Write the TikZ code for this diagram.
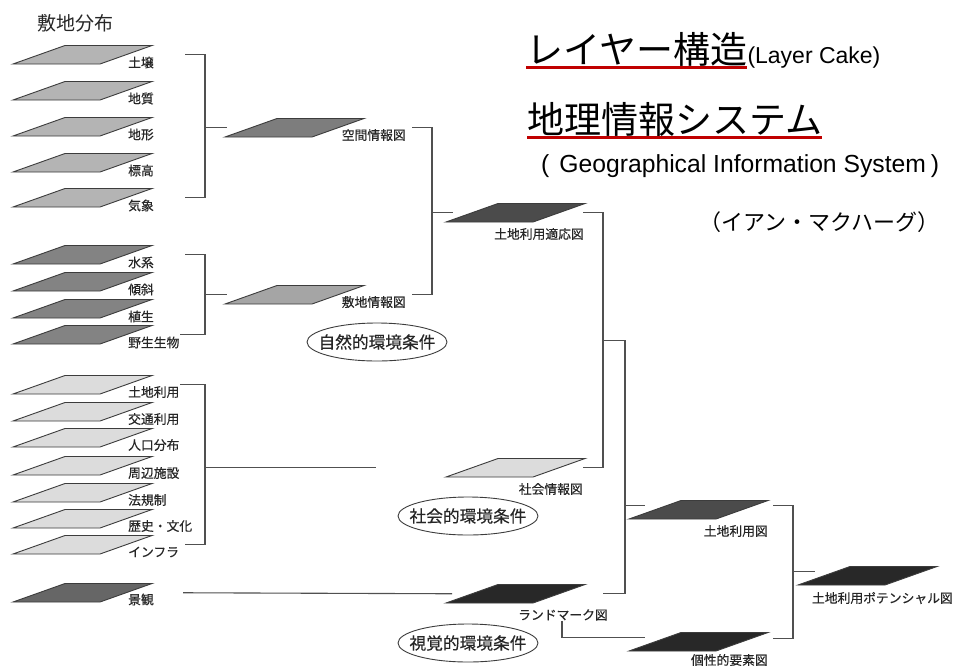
\documentclass[tikz,border=0pt]{standalone}
\usepackage{fontspec}
\setmainfont{Liberation Sans}
\newfontfamily\jp{Noto Sans CJK JP}
\newfontfamily\jpm{Noto Sans CJK JP}[FakeBold=0.35]
\usetikzlibrary{calc,shapes.geometric}
\definecolor{lyrline}{HTML}{3C3C3C}
\definecolor{connc}{HTML}{505050}
\definecolor{labtxt}{HTML}{262626}
\definecolor{gA}{HTML}{B4B4B4}
\definecolor{gB}{HTML}{838383}
\definecolor{gC}{HTML}{DCDCDC}
\definecolor{gD}{HTML}{666666}
\definecolor{gE}{HTML}{7D7D7D}
\definecolor{gF}{HTML}{A5A5A5}
\definecolor{gG}{HTML}{4B4B4B}
\definecolor{gH}{HTML}{282828}
\definecolor{ulred}{HTML}{C00000}
\newcommand{\mylayer}[4]{%
  \node[lbox] (#1) at (#2,#3) {};
  \filldraw[lyrs, fill=#4] (#1.south west) -- ([xshift=87pt]#1.south west) -- (#1.north east) -- ([xshift=-87pt]#1.north east) -- cycle;}
\begin{document}
\begin{tikzpicture}[x=1pt,y=-1pt,
  lbox/.style={inner sep=0pt, outer sep=0pt, minimum width=139pt, minimum height=18.5pt, anchor=south west},
  lyrs/.style={draw=lyrline, line width=0.9pt, line join=miter},
  lab/.style={font=\jpm\fontsize{12.8}{14}\selectfont, text=labtxt, inner sep=0pt},
  labl/.style={lab, anchor=west},
  labr/.style={lab, anchor=east},
  conn/.style={draw=connc, line width=1.1pt},
  cond/.style={ellipse, draw=lyrline, line width=0.9pt, minimum width=140pt, minimum height=38pt, inner sep=0pt},
  condtext/.style={inner sep=0pt, text=labtxt, font=\jpm\fontsize{16.7}{18}\selectfont},
  ttl/.style={inner sep=0pt, font=\jp\fontsize{37}{40}\selectfont, anchor=base west},
  ulin/.style={draw=ulred, line width=3pt}]
\useasboundingbox (0,0) rectangle (955,670);
\fill[white] (0,0) rectangle (955,670);

% titles
\node[inner sep=0pt, anchor=west, text=labtxt, font=\jp\fontsize{19}{21}\selectfont] (site) at (37,23) {敷地分布};
\node[ttl] (t1) at (526,63) {レイヤー構造};
\node[inner sep=0pt, anchor=base west, font=\fontsize{23}{26}\selectfont] (t1b) at (t1.base east) {(Layer Cake)};
\draw[ulin] ([yshift=-4pt]t1.base west) -- ([yshift=-4pt]t1.base east);
\node[ttl] (t2) at (527,133) {地理情報システム};
\draw[ulin] ([yshift=-4pt]t2.base west) -- ([yshift=-4pt]t2.base east);
\node[inner sep=0pt, anchor=base west, font=\fontsize{24.7}{27}\selectfont] (t2b) at (541,172) {(\hspace{10pt}Geographical Information System\hspace{5pt})};
\node[inner sep=0pt, anchor=west, font=\jp\fontsize{22}{24}\selectfont] (t3) at (699,222) {（イアン・マクハーグ）};

% group 1
\mylayer{soil}{13}{64}{gA}
\mylayer{geol}{13}{100}{gA}
\mylayer{topo}{13}{136}{gA}
\mylayer{elev}{13}{172}{gA}
\mylayer{clim}{13}{207}{gA}
\node[labl] (soilL) at ([xshift=-24pt,yshift=1.5pt]soil.south east) {土壌};
\node[labl] (geolL) at ([xshift=-24pt,yshift=1.5pt]geol.south east) {地質};
\node[labl] (topoL) at ([xshift=-24pt,yshift=1.5pt]topo.south east) {地形};
\node[labl] (elevL) at ([xshift=-24pt,yshift=1.5pt]elev.south east) {標高};
\node[labl] (climL) at ([xshift=-24pt,yshift=1.5pt]clim.south east) {気象};

% group 2
\mylayer{water}{13}{264}{gB}
\mylayer{slope}{13}{291}{gB}
\mylayer{veg}{13}{318}{gB}
\mylayer{wild}{13}{344}{gB}
\node[labl] (waterL) at ([xshift=-24pt,yshift=1.5pt]water.south east) {水系};
\node[labl] (slopeL) at ([xshift=-24pt,yshift=1.5pt]slope.south east) {傾斜};
\node[labl] (vegL) at ([xshift=-24pt,yshift=1.5pt]veg.south east) {植生};
\node[labl] (wildL) at ([xshift=-24pt,yshift=1.5pt]wild.south east) {野生生物};

% group 3
\mylayer{luse}{13}{394}{gC}
\mylayer{traf}{13}{421}{gC}
\mylayer{pop}{13}{447}{gC}
\mylayer{fac}{13}{475}{gC}
\mylayer{law}{13}{502}{gC}
\mylayer{hist}{13}{528}{gC}
\mylayer{infra}{13}{554}{gC}
\node[labl] (luseL) at ([xshift=-24pt,yshift=2pt]luse.south east) {土地利用};
\node[labl] (trafL) at ([xshift=-24pt,yshift=2pt]traf.south east) {交通利用};
\node[labl] (popL) at ([xshift=-24pt,yshift=2pt]pop.south east) {人口分布};
\node[labl] (facL) at ([xshift=-24pt,yshift=2pt]fac.south east) {周辺施設};
\node[labl] (lawL) at ([xshift=-24pt,yshift=2pt]law.south east) {法規制};
\node[labl] (histL) at ([xshift=-24pt,yshift=2pt]hist.south east) {歴史・文化};
\node[labl] (infraL) at ([xshift=-24pt,yshift=2pt]infra.south east) {インフラ};

% landscape
\mylayer{land}{13}{602}{gD}
\node[labl] (landL) at ([xshift=-24pt,yshift=2.5pt]land.south east) {景観};

% middle layers
\mylayer{kukan}{225}{137}{gE}
\mylayer{shiki}{225}{304}{gF}
\mylayer{tekio}{446}{222}{gG}
\mylayer{shakai}{446}{477}{gC}
\mylayer{lmark}{446}{603}{gH}
\mylayer{triyo}{629}{519}{gG}
\mylayer{kosei}{629}{651}{gH}
\mylayer{pot}{798}{585}{gH}
\node[labr] (kukanL) at ([xshift=42pt,yshift=2pt]kukan.south east) {空間情報図};
\node[labr] (shikiL) at ([xshift=42pt,yshift=2pt]shiki.south east) {敷地情報図};
\node[labr] (tekioL) at ([xshift=-1pt,yshift=-12pt]tekio.south east) {土地利用適応図};
\node[labr] (shakaiL) at ([xshift=-2pt,yshift=-12pt]shakai.south east) {社会情報図};
\node[labr] (lmarkL) at ([xshift=23pt,yshift=-12pt]lmark.south east) {ランドマーク図};
\node[labr] (triyoL) at ([xshift=0pt,yshift=-12pt]triyo.south east) {土地利用図};
\node[labr] (koseiL) at ([xshift=0pt,yshift=-9pt]kosei.south east) {個性的要素図};
\node[labr] (potL) at ([xshift=16pt,yshift=-13pt]pot.south east) {土地利用ポテンシャル図};

% condition ellipses
\node[cond] (c1) at (377,342) {};
\node[condtext] (c1t) at (c1.center) {自然的環境条件};
\node[cond] (c2) at (468,516) {};
\node[condtext] (c2t) at (c2.center) {社会的環境条件};
\node[cond] (c3) at (468,643) {};
\node[condtext] (c3t) at (c3.center) {視覚的環境条件};

% bracket x positions
\coordinate (bx1) at (205,0);
\coordinate (bx2) at (432,0);
\coordinate (bx3) at (603,0);
\coordinate (bx4) at (625,0);
\coordinate (bx5) at (793,0);

% connectors
\draw[conn] ([xshift=33pt]soil.east) -- (soil.east -| bx1) -- (clim.east -| bx1) -- ([xshift=33pt]clim.east);
\draw[conn] (kukan.west -| bx1) -- ([xshift=2pt]kukan.west);
\draw[conn] ([xshift=33pt]water.east) -- (water.east -| bx1) -- (wild.east -| bx1) -- ([xshift=28pt]wild.east);
\draw[conn] (shiki.west -| bx1) -- ([xshift=2pt]shiki.west);
\draw[conn] ([xshift=28pt]luse.east) -- (luse.east -| bx1) -- (infra.east -| bx1) -- ([xshift=33pt]infra.east);
\coordinate (socend) at ([xshift=-70pt]shakai.west);
\draw[conn] (shakai.west -| bx1) -- (socend);
\draw[conn] ([xshift=31pt]land.east) -- ([xshift=6pt]lmark.west);

\draw[conn] ([xshift=48pt]kukan.east) -- (kukan.east -| bx2) -- (shiki.east -| bx2) -- ([xshift=48pt]shiki.east);
\draw[conn] (tekio.west -| bx2) -- ([xshift=7pt]tekio.west);

\draw[conn] ([xshift=-2pt]tekio.east) -- (tekio.east -| bx3) -- (shakai.east -| bx3) -- ([xshift=-2pt]shakai.east);
\coordinate (mid3) at ($(tekio.east -| bx3)!0.5!(shakai.east -| bx3)$);
\draw[conn] (mid3) -- (mid3 -| bx4) -- (lmark.east -| bx4) -- ([xshift=18pt]lmark.east);
\draw[conn] ([yshift=4pt]triyo.west -| bx4) -- ([xshift=16pt,yshift=4pt]triyo.west);

\draw[conn] ([xshift=-1pt]lmarkL.south) -- ([xshift=-1pt,yshift=4pt]lmarkL.south |- kosei.west) -- ([xshift=16pt,yshift=4pt]kosei.west);

\draw[conn] ([xshift=5pt,yshift=4pt]triyo.east) -- ([yshift=4pt]triyo.east -| bx5) -- ([yshift=3pt]kosei.east -| bx5) -- ([xshift=5pt,yshift=3pt]kosei.east);
\draw[conn] ([yshift=4pt]pot.west -| bx5) -- ([xshift=17pt,yshift=4pt]pot.west);
\end{tikzpicture}
\end{document}
